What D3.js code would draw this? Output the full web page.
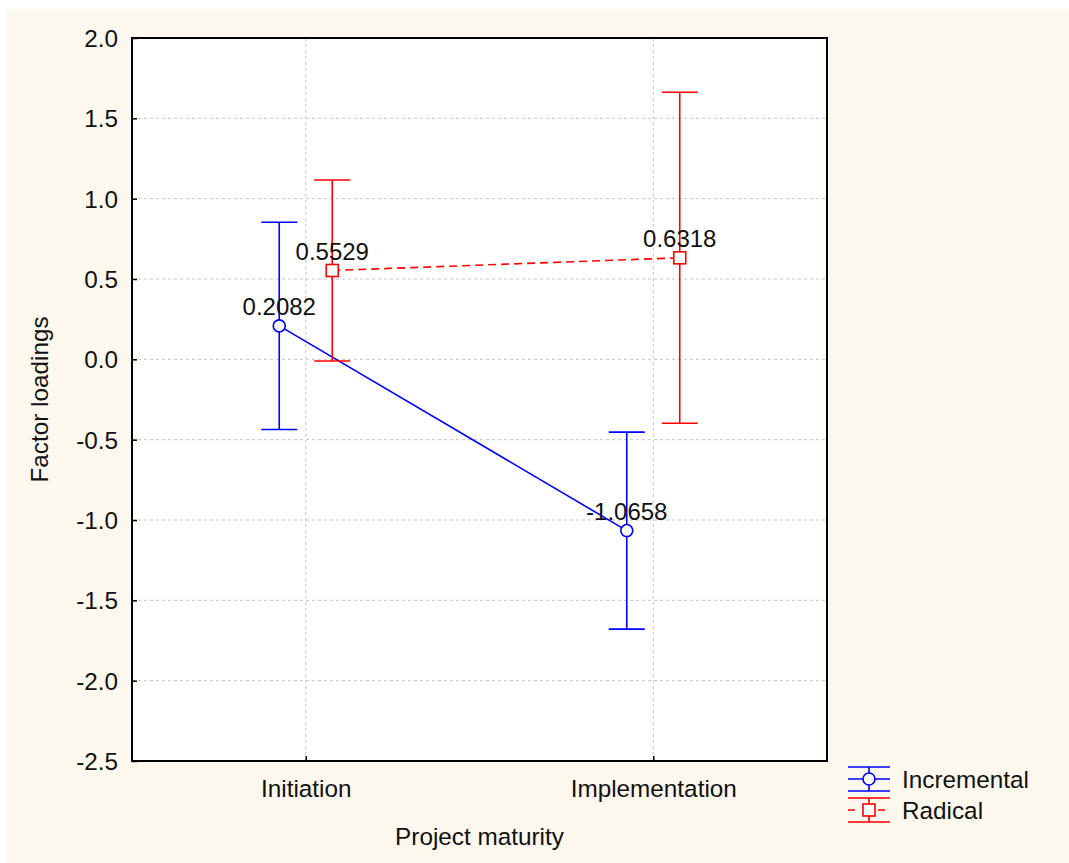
<!DOCTYPE html>
<html>
<head>
<meta charset="utf-8">
<script src="https://cdn.jsdelivr.net/npm/d3@7"></script>
<style>
  body { margin: 0; background: #fff; }
  svg text { font-family: "Liberation Sans", Arial, sans-serif; fill: #111; }
  .grid line { stroke: #c4c4c4; stroke-dasharray: 3,3; stroke-width: 1; }
</style>
</head>
<body>
<div id="chart"></div>
<script>
var categories = ["Initiation", "Implementation"];
var yTicks = [2.0, 1.5, 1.0, 0.5, 0.0, -0.5, -1.0, -1.5, -2.0, -2.5];

var incrementalMean  = [0.2082, -1.0658];
var incrementalUpper = [0.853, -0.453];
var incrementalLower = [-0.437, -1.679];

var radicalMean  = [0.5529, 0.6318];
var radicalUpper = [1.116, 1.662];
var radicalLower = [-0.010, -0.398];

var seriesNames = ["Incremental", "Radical"];

var W = 1069, H = 863;
var margin = {top: 38, right: 242, bottom: 102, left: 132},
  width = W - margin.left - margin.right,
  height = H - margin.top - margin.bottom;

var fs = 24.3;

// plain hyphen for negatives, like the original
function fmt(spec) {
  var f = d3.format(spec);
  return function(d) { return f(d).replace("\u2212", "-"); };
}

var svg = d3.select("#chart")
  .append("svg")
    .attr("width", W)
    .attr("height", H);

// cream page background
svg.append("rect")
  .attr("x", 7).attr("y", 9)
  .attr("width", W - 7).attr("height", H - 9)
  .attr("fill", "#fdf8ee");

var g = svg.append("g")
  .attr("transform", "translate(" + margin.left + "," + margin.top + ")");

g.append("rect")
  .attr("width", width).attr("height", height)
  .attr("fill", "#fff");

var x = d3.scalePoint()
  .domain(categories)
  .range([0, width])
  .padding(0.5);

var y = d3.scaleLinear()
  .domain([-2.5, 2.0])
  .range([height, 0]);

var off = 26.5;

// grid
var grid = g.append("g").attr("class", "grid");
grid.selectAll(".gy")
  .data(yTicks.filter(function(d) { return d > -2.5 && d < 2.0; }))
  .enter().append("line")
    .attr("x1", 0).attr("x2", width)
    .attr("y1", function(d) { return y(d); })
    .attr("y2", function(d) { return y(d); });
grid.selectAll(".gx")
  .data(categories)
  .enter().append("line")
    .attr("x1", function(d) { return x(d); })
    .attr("x2", function(d) { return x(d); })
    .attr("y1", 0).attr("y2", height);

// axes with inward ticks
var yAxis = g.append("g")
  .call(d3.axisLeft(y).tickValues(yTicks).tickSize(-5).tickPadding(14)
    .tickFormat(fmt(".1f")));
yAxis.select(".domain").remove();
yAxis.selectAll("line").attr("stroke", "#000").attr("stroke-width", 1.5);
yAxis.selectAll("text").attr("font-size", fs).attr("dy", "0.35em");

var xAxis = g.append("g")
  .attr("transform", "translate(0," + height + ")")
  .call(d3.axisBottom(x).tickSize(-5).tickPadding(19));
xAxis.select(".domain").remove();
xAxis.selectAll("line").attr("stroke", "#000").attr("stroke-width", 1.5);
xAxis.selectAll("text").attr("font-size", fs);

// frame
g.append("rect")
  .attr("width", width).attr("height", height)
  .attr("fill", "none")
  .attr("stroke", "#000")
  .attr("stroke-width", 2);

// axis titles
svg.append("text")
  .attr("x", margin.left + width / 2)
  .attr("y", 845)
  .attr("text-anchor", "middle")
  .attr("font-size", fs)
  .text("Project maturity");

svg.append("text")
  .attr("transform", "translate(48," + (margin.top + height / 2) + ") rotate(-90)")
  .attr("text-anchor", "middle")
  .attr("font-size", fs)
  .text("Factor loadings");

function drawSeries(mean, upper, lower, dx, color, dash, shape) {
  var pts = categories.map(function(c, i) {
    return {x: x(c) + dx, m: mean[i], u: upper[i], l: lower[i]};
  });
  var s = g.append("g");
  // error bars
  pts.forEach(function(p) {
    s.append("line")
      .attr("x1", p.x).attr("x2", p.x)
      .attr("y1", y(p.u)).attr("y2", y(p.l))
      .attr("stroke", color).attr("stroke-width", 1.6);
    [p.u, p.l].forEach(function(v) {
      s.append("line")
        .attr("x1", p.x - 18).attr("x2", p.x + 18)
        .attr("y1", y(v)).attr("y2", y(v))
        .attr("stroke", color).attr("stroke-width", 1.6);
    });
  });
  // mean line
  s.append("path")
    .datum(pts)
    .attr("d", d3.line().x(function(p) { return p.x; }).y(function(p) { return y(p.m); }))
    .attr("fill", "none")
    .attr("stroke", color)
    .attr("stroke-width", 1.6)
    .attr("stroke-dasharray", dash);
  // markers
  pts.forEach(function(p) {
    if (shape === "circle") {
      s.append("circle")
        .attr("cx", p.x).attr("cy", y(p.m)).attr("r", 6)
        .attr("fill", "#fff").attr("stroke", color).attr("stroke-width", 1.6);
    } else {
      s.append("rect")
        .attr("x", p.x - 6).attr("y", y(p.m) - 6)
        .attr("width", 12).attr("height", 12)
        .attr("fill", "#fff").attr("stroke", color).attr("stroke-width", 1.6);
    }
    s.append("text")
      .attr("x", p.x).attr("y", y(p.m) - 11)
      .attr("text-anchor", "middle")
      .attr("font-size", 24)
      .text(fmt(".4f")(p.m));
  });
}

drawSeries(incrementalMean, incrementalUpper, incrementalLower, -off, "#0000ff", null, "circle");
drawSeries(radicalMean, radicalUpper, radicalLower, off, "#ff0000", "8,5", "square");

// legend
var legend = svg.append("g").attr("transform", "translate(848,767)");
var legendItems = [
  {name: seriesNames[0], color: "#0000ff", dash: null, shape: "circle"},
  {name: seriesNames[1], color: "#ff0000", dash: "7,8", shape: "square"}
];
legendItems.forEach(function(d, i) {
  var li = legend.append("g").attr("transform", "translate(0," + (i * 31) + ")");
  [0, 24].forEach(function(yy) {
    li.append("line").attr("x1", 0).attr("x2", 42).attr("y1", yy).attr("y2", yy)
      .attr("stroke", d.color).attr("stroke-width", 1.6);
  });
  li.append("line").attr("x1", 21).attr("x2", 21).attr("y1", 0).attr("y2", 24)
    .attr("stroke", d.color).attr("stroke-width", 1.6);
  li.append("line").attr("x1", 0).attr("x2", 42).attr("y1", 12).attr("y2", 12)
    .attr("stroke", d.color).attr("stroke-width", 1.6)
    .attr("stroke-dasharray", d.dash);
  if (d.shape === "circle") {
    li.append("circle").attr("cx", 21).attr("cy", 12).attr("r", 6)
      .attr("fill", "#fff").attr("stroke", d.color).attr("stroke-width", 1.6);
  } else {
    li.append("rect").attr("x", 15).attr("y", 6).attr("width", 12).attr("height", 12)
      .attr("fill", "#fff").attr("stroke", d.color).attr("stroke-width", 1.6);
  }
  li.append("text").attr("x", 54).attr("y", 21).attr("font-size", fs).text(d.name);
});
</script>
</body>
</html>
